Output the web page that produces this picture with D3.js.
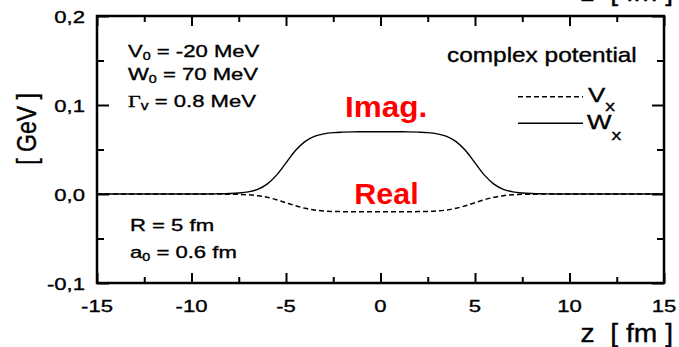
<!doctype html>
<html>
<head>
<title>complex potential</title>
<style>
html, body { margin: 0; padding: 0; background: #fff; }
svg { display: block; }
text { font-family: "Liberation Sans", Arial, sans-serif; fill: #000; white-space: pre; }
text.ink { stroke: #000; stroke-width: 0.35px; }
</style>
<script src="https://cdnjs.cloudflare.com/ajax/libs/d3/7.8.5/d3.min.js"></script>
</head>
<body>
<script>
// z [fm] sample points (GeV)
var zVals = [-15,-14.5,-14,-13.5,-13,-12.5,-12,-11.5,-11,-10.5,-10,-9.5,-9,-8.5,-8,-7.5,-7,-6.5,-6,-5.5,-5,-4.5,-4,-3.5,-3,-2.5,-2,-1.5,-1,-0.5,
             0,0.5,1,1.5,2,2.5,3,3.5,4,4.5,5,5.5,6,6.5,7,7.5,8,8.5,9,9.5,10,10.5,11,11.5,12,12.5,13,13.5,14,14.5,15];
var wVals = [0,0,0,0,0,0,0,0,0,0,0,0,0.0001,0.0002,0.0005,0.0011,0.0024,0.0053,0.0111,0.0212,0.0350,0.0488,0.0589,0.0647,0.0676,0.0690,0.0695,0.0698,0.0699,0.0700,
             0.0700,0.0700,0.0699,0.0698,0.0695,0.0690,0.0676,0.0647,0.0589,0.0488,0.0350,0.0212,0.0111,0.0053,0.0024,0.0011,0.0005,0.0002,0.0001,0,0,0,0,0,0,0,0,0,0,0,0];
var vVals = [0,0,0,0,0,0,0,0,0,0,0,0,0,-0.0001,-0.0002,-0.0004,-0.0009,-0.0019,-0.0037,-0.0064,-0.0098,-0.0132,-0.0160,-0.0180,-0.0191,-0.0196,-0.0198,-0.0199,-0.0200,-0.0200,
             -0.0200,-0.0200,-0.0200,-0.0199,-0.0198,-0.0196,-0.0191,-0.0180,-0.0160,-0.0132,-0.0098,-0.0064,-0.0037,-0.0019,-0.0009,-0.0004,-0.0002,-0.0001,0,0,0,0,0,0,0,0,0,0,0,0,0];

var xMajor = [-15,-10,-5,0,5,10,15];
var xMinor = [-12.5,-7.5,-2.5,2.5,7.5,12.5];
var xTickLabels = ["-15","-10","-5","0","5","10","15"];
var yMajor = [-0.1,0,0.1,0.2];
var yMinor = [-0.05,0.05,0.15];
var yTickLabels = ["-0,1","0,0","0,1","0,2"];

var width = 679, height = 347;
var pLeft = 97, pRight = 664, pTop = 16, pBottom = 283;

var svg = d3.select("body").append("svg")
    .attr("width", width)
    .attr("height", height);

svg.append("rect").attr("width", width).attr("height", height).attr("fill", "#fff");

var x = d3.scaleLinear().domain([-15, 15]).range([pLeft, pRight]);
var y = d3.scaleLinear().domain([-0.1, 0.2]).range([pBottom, pTop]);

function ticks(axis, tx, ty) {
    var g = svg.append("g")
        .attr("transform", "translate(" + tx + "," + ty + ")")
        .call(axis);
    g.select(".domain").remove();
    g.selectAll("text").remove();
    g.selectAll("line").attr("stroke", "#000").attr("stroke-width", 2);
}

ticks(d3.axisBottom(x).tickValues(xMajor).tickSize(-10), 0, pBottom);
ticks(d3.axisBottom(x).tickValues(xMinor).tickSize(-6), 0, pBottom);
ticks(d3.axisTop(x).tickValues(xMajor).tickSize(-10), 0, pTop);
ticks(d3.axisTop(x).tickValues(xMinor).tickSize(-6), 0, pTop);
ticks(d3.axisLeft(y).tickValues(yMajor).tickSize(-12), pLeft, 0);
ticks(d3.axisLeft(y).tickValues(yMinor).tickSize(-7), pLeft, 0);
ticks(d3.axisRight(y).tickValues(yMajor).tickSize(-12), pRight, 0);
ticks(d3.axisRight(y).tickValues(yMinor).tickSize(-7), pRight, 0);

var pts = zVals.map(function (z, i) { return { z: z, w: wVals[i], v: vVals[i] }; });

svg.append("path")
    .datum(pts)
    .attr("fill", "none")
    .attr("stroke", "#000")
    .attr("stroke-width", 1.4)
    .attr("d", d3.line().curve(d3.curveMonotoneX)
        .x(function (d) { return x(d.z); })
        .y(function (d) { return y(d.w); }));

svg.append("path")
    .datum(pts)
    .attr("fill", "none")
    .attr("stroke", "#000")
    .attr("stroke-width", 1.5)
    .attr("stroke-dasharray", "5,3")
    .attr("d", d3.line().curve(d3.curveMonotoneX)
        .x(function (d) { return x(d.z); })
        .y(function (d) { return y(d.v); }));

svg.append("rect")
    .attr("x", pLeft).attr("y", pTop)
    .attr("width", pRight - pLeft).attr("height", pBottom - pTop)
    .attr("fill", "none")
    .attr("stroke", "#000")
    .attr("stroke-width", 2.5);

// text, horizontally stretched like the original figure
function txt(px, py, size, sx, anchor) {
    return svg.append("text")
        .attr("class", "ink")
        .attr("transform", "translate(" + px + "," + py + ") scale(" + sx + ",1)")
        .attr("font-size", size)
        .attr("text-anchor", anchor || "start");
}

xMajor.forEach(function (v, i) {
    txt(x(v), 312, 17, 1.3, "middle").text(xTickLabels[i]);
});
yMajor.forEach(function (v, i) {
    txt(85, y(v) + 6.5, 17, 1.3, "end").text(yTickLabels[i]);
});

svg.append("text")
    .attr("class", "ink")
    .attr("transform", "translate(36,129) rotate(-90) scale(1,1.2)")
    .attr("font-size", 23)
    .attr("text-anchor", "middle")
    .text("[ GeV ]");

txt(673, 342, 25, 1.13, "end").text("z  [ fm ]");
txt(673, 1, 25, 1.13, "end").text("z  [ fm ]");

function sub(t, main, s, subSize, dy, serif) {
    var a = t.append("tspan").text(main);
    if (serif) a.attr("font-family", "'Liberation Serif', serif");
    t.append("tspan").attr("font-size", subSize).attr("dy", dy).text(s);
    return t;
}

sub(txt(128, 57, 17, 1.3), "V", "0", 11, 3).append("tspan").attr("dy", -3).text(" = -20 MeV");
sub(txt(128, 80, 17, 1.3), "W", "0", 11, 3).append("tspan").attr("dy", -3).text(" = 70 MeV");
sub(txt(128, 106.5, 17, 1.3), "\u0393", "v", 12, 3, true).append("tspan").attr("dy", -3).text(" = 0.8 MeV");

txt(130, 230.5, 17, 1.3).text("R = 5 fm");
sub(txt(130, 258, 17, 1.3), "a", "0", 11, 3).append("tspan").attr("dy", -3).text(" = 0.6 fm");

txt(447, 61.5, 20, 1.22).text("complex potential");

// legend
svg.append("line").attr("x1", 518).attr("x2", 583).attr("y1", 96.7).attr("y2", 96.7)
    .attr("stroke", "#000").attr("stroke-width", 1.6).attr("stroke-dasharray", "5,3");
svg.append("line").attr("x1", 518).attr("x2", 583).attr("y1", 123.3).attr("y2", 123.3)
    .attr("stroke", "#000").attr("stroke-width", 1.6);
sub(txt(588, 101.5, 20, 1.3), "V", "x", 15, 9.5);
sub(txt(587, 128.5, 20, 1.3), "W", "x", 15, 11);

txt(386, 117, 30, 1.05, "middle").attr("class", null).attr("font-weight", "bold").style("fill", "#ff0000").text("Imag.");
txt(386.5, 204, 29, 1.05, "middle").attr("class", null).attr("font-weight", "bold").style("fill", "#ff0000").text("Real");
</script>
</body>
</html>
